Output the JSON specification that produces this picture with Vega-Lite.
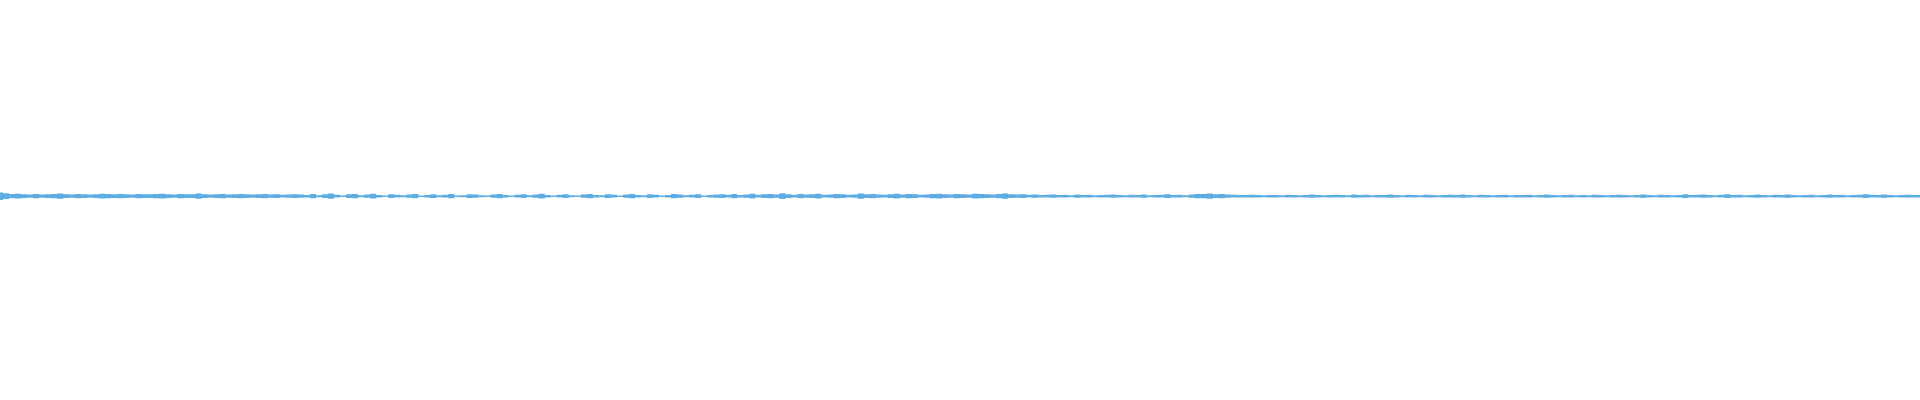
{
  "$schema": "https://vega.github.io/schema/vega-lite/v6.json",
  "width": 1920,
  "height": 400,
  "autosize": {"type": "fit", "contains": "padding"},
  "padding": 0,
  "background": "white",
  "config": {"view": {"stroke": null}},
  "data": {"values": [
    {"t":0,"a":1.6},{"t":1,"a":1.2},{"t":2,"a":0.9},{"t":3,"a":1.0},{"t":4,"a":0.8},{"t":5,"a":0.7},{"t":6,"a":0.9},{"t":7,"a":0.7},{"t":8,"a":0.8},{"t":9,"a":0.9},
    {"t":10,"a":1.1},{"t":11,"a":0.8},{"t":12,"a":0.7},{"t":13,"a":0.9},{"t":14,"a":0.8},{"t":15,"a":0.7},{"t":16,"a":0.8},{"t":17,"a":1.0},{"t":18,"a":0.9},{"t":19,"a":0.8},
    {"t":20,"a":0.9},{"t":21,"a":0.8},{"t":22,"a":0.7},{"t":23,"a":0.9},{"t":24,"a":0.8},{"t":25,"a":0.8},{"t":26,"a":0.9},{"t":27,"a":1.0},{"t":28,"a":0.8},{"t":29,"a":0.7},
    {"t":30,"a":0.9},{"t":31,"a":0.8},{"t":32,"a":0.8},{"t":33,"a":1.1},{"t":34,"a":0.8},{"t":35,"a":0.7},{"t":36,"a":0.8},{"t":37,"a":0.9},{"t":38,"a":0.7},{"t":39,"a":0.8},
    {"t":40,"a":0.9},{"t":41,"a":0.8},{"t":42,"a":0.7},{"t":43,"a":0.8},{"t":44,"a":0.9},{"t":45,"a":0.7},{"t":46,"a":0.8},{"t":47,"a":0.6},{"t":48,"a":0.7},{"t":49,"a":0.8},
    {"t":50,"a":0.7},{"t":51,"a":0.5},{"t":52,"a":0.9},{"t":53,"a":0.4},{"t":54,"a":0.8},{"t":55,"a":1.1},{"t":56,"a":0.6},{"t":57,"a":0.3},{"t":58,"a":0.8},{"t":59,"a":0.9},
    {"t":60,"a":0.4},{"t":61,"a":0.7},{"t":62,"a":1.0},{"t":63,"a":0.5},{"t":64,"a":0.3},{"t":65,"a":0.8},{"t":66,"a":0.6},{"t":67,"a":0.4},{"t":68,"a":0.7},{"t":69,"a":0.9},
    {"t":70,"a":0.3},{"t":71,"a":0.5},{"t":72,"a":0.8},{"t":73,"a":0.4},{"t":74,"a":0.6},{"t":75,"a":0.9},{"t":76,"a":0.3},{"t":77,"a":0.4},{"t":78,"a":0.8},{"t":79,"a":0.7},
    {"t":80,"a":0.4},{"t":81,"a":0.3},{"t":82,"a":0.7},{"t":83,"a":0.9},{"t":84,"a":0.5},{"t":85,"a":0.3},{"t":86,"a":0.6},{"t":87,"a":0.8},{"t":88,"a":0.4},{"t":89,"a":0.7},
    {"t":90,"a":1.0},{"t":91,"a":0.5},{"t":92,"a":0.3},{"t":93,"a":0.6},{"t":94,"a":0.8},{"t":95,"a":0.4},{"t":96,"a":0.3},{"t":97,"a":0.7},{"t":98,"a":0.9},{"t":99,"a":0.5},
    {"t":100,"a":0.4},{"t":101,"a":0.8},{"t":102,"a":0.6},{"t":103,"a":0.3},{"t":104,"a":0.7},{"t":105,"a":0.9},{"t":106,"a":0.5},{"t":107,"a":0.4},{"t":108,"a":0.8},{"t":109,"a":0.6},
    {"t":110,"a":0.3},{"t":111,"a":0.5},{"t":112,"a":0.9},{"t":113,"a":0.7},{"t":114,"a":0.4},{"t":115,"a":0.6},{"t":116,"a":0.8},{"t":117,"a":0.3},{"t":118,"a":0.5},{"t":119,"a":0.7},
    {"t":120,"a":0.8},{"t":121,"a":0.6},{"t":122,"a":0.9},{"t":123,"a":0.5},{"t":124,"a":0.7},{"t":125,"a":1.0},{"t":126,"a":0.6},{"t":127,"a":0.8},{"t":128,"a":0.9},{"t":129,"a":0.7},
    {"t":130,"a":1.2},{"t":131,"a":0.8},{"t":132,"a":0.6},{"t":133,"a":0.9},{"t":134,"a":0.7},{"t":135,"a":0.8},{"t":136,"a":1.0},{"t":137,"a":0.6},{"t":138,"a":0.7},{"t":139,"a":0.9},
    {"t":140,"a":0.8},{"t":141,"a":0.6},{"t":142,"a":0.7},{"t":143,"a":1.1},{"t":144,"a":0.8},{"t":145,"a":0.9},{"t":146,"a":0.7},{"t":147,"a":0.6},{"t":148,"a":0.8},{"t":149,"a":1.0},
    {"t":150,"a":0.7},{"t":151,"a":0.9},{"t":152,"a":0.8},{"t":153,"a":0.6},{"t":154,"a":0.7},{"t":155,"a":0.9},{"t":156,"a":1.0},{"t":157,"a":0.8},{"t":158,"a":0.7},{"t":159,"a":0.9},
    {"t":160,"a":0.8},{"t":161,"a":0.7},{"t":162,"a":1.0},{"t":163,"a":0.9},{"t":164,"a":0.8},{"t":165,"a":0.7},{"t":166,"a":0.9},{"t":167,"a":1.1},{"t":168,"a":0.8},{"t":169,"a":0.7},
    {"t":170,"a":0.8},{"t":171,"a":0.6},{"t":172,"a":0.7},{"t":173,"a":0.5},{"t":174,"a":0.6},{"t":175,"a":0.7},{"t":176,"a":0.5},{"t":177,"a":0.6},{"t":178,"a":0.4},{"t":179,"a":0.7},
    {"t":180,"a":0.5},{"t":181,"a":0.6},{"t":182,"a":0.4},{"t":183,"a":0.5},{"t":184,"a":0.6},{"t":185,"a":0.7},{"t":186,"a":0.5},{"t":187,"a":0.4},{"t":188,"a":0.6},{"t":189,"a":0.5},
    {"t":190,"a":0.7},{"t":191,"a":0.4},{"t":192,"a":0.5},{"t":193,"a":0.6},{"t":194,"a":0.8},{"t":195,"a":0.5},{"t":196,"a":0.6},{"t":197,"a":0.4},{"t":198,"a":0.7},{"t":199,"a":0.9},
    {"t":200,"a":0.9},{"t":201,"a":1.1},{"t":202,"a":0.8},{"t":203,"a":0.9},{"t":204,"a":0.7},{"t":205,"a":0.6},{"t":206,"a":0.5},{"t":207,"a":0.5},{"t":208,"a":0.6},{"t":209,"a":0.5},
    {"t":210,"a":0.4},{"t":211,"a":0.5},{"t":212,"a":0.5},{"t":213,"a":0.4},{"t":214,"a":0.6},{"t":215,"a":0.5},{"t":216,"a":0.4},{"t":217,"a":0.5},{"t":218,"a":0.7},{"t":219,"a":0.5},
    {"t":220,"a":0.4},{"t":221,"a":0.5},{"t":222,"a":0.6},{"t":223,"a":0.5},{"t":224,"a":0.4},{"t":225,"a":0.7},{"t":226,"a":0.5},{"t":227,"a":0.6},{"t":228,"a":0.4},{"t":229,"a":0.5},
    {"t":230,"a":0.5},{"t":231,"a":0.7},{"t":232,"a":0.5},{"t":233,"a":0.4},{"t":234,"a":0.6},{"t":235,"a":0.5},{"t":236,"a":0.4},{"t":237,"a":0.6},{"t":238,"a":0.5},{"t":239,"a":0.4},
    {"t":240,"a":0.5},{"t":241,"a":0.6},{"t":242,"a":0.5},{"t":243,"a":0.7},{"t":244,"a":0.5},{"t":245,"a":0.4},{"t":246,"a":0.6},{"t":247,"a":0.5},{"t":248,"a":0.4},{"t":249,"a":0.5},
    {"t":250,"a":0.6},{"t":251,"a":0.4},{"t":252,"a":0.5},{"t":253,"a":0.5},{"t":254,"a":0.6},{"t":255,"a":0.4},{"t":256,"a":0.5},{"t":257,"a":0.7},{"t":258,"a":0.5},{"t":259,"a":0.4},
    {"t":260,"a":0.5},{"t":261,"a":0.6},{"t":262,"a":0.4},{"t":263,"a":0.5},{"t":264,"a":0.4},{"t":265,"a":0.6},{"t":266,"a":0.5},{"t":267,"a":0.4},{"t":268,"a":0.5},{"t":269,"a":0.6},
    {"t":270,"a":0.5},{"t":271,"a":0.4},{"t":272,"a":0.5},{"t":273,"a":0.7},{"t":274,"a":0.5},{"t":275,"a":0.4},{"t":276,"a":0.6},{"t":277,"a":0.5},{"t":278,"a":0.4},{"t":279,"a":0.5},
    {"t":280,"a":0.8},{"t":281,"a":0.5},{"t":282,"a":0.6},{"t":283,"a":0.7},{"t":284,"a":0.5},{"t":285,"a":0.4},{"t":286,"a":0.6},{"t":287,"a":0.8},{"t":288,"a":0.5},{"t":289,"a":0.6},
    {"t":290,"a":0.4},{"t":291,"a":0.5},{"t":292,"a":0.7},{"t":293,"a":0.5},{"t":294,"a":0.4},{"t":295,"a":0.6},{"t":296,"a":0.5},{"t":297,"a":0.7},{"t":298,"a":0.5},{"t":299,"a":0.4},
    {"t":300,"a":0.5},{"t":301,"a":0.6},{"t":302,"a":0.4},{"t":303,"a":0.5},{"t":304,"a":0.7},{"t":305,"a":0.5},{"t":306,"a":0.6},{"t":307,"a":0.4},{"t":308,"a":0.5},{"t":309,"a":0.6},
    {"t":310,"a":0.8},{"t":311,"a":0.6},{"t":312,"a":0.5},{"t":313,"a":0.7},{"t":314,"a":0.5},{"t":315,"a":0.4},{"t":316,"a":0.5},{"t":317,"a":0.6},{"t":318,"a":0.5},{"t":319,"a":0.5}
  ]},
  "mark": {"type": "area", "color": "#5dade2", "interpolate": "step"},
  "encoding": {
    "x": {"field": "t", "type": "quantitative", "axis": null, "scale": {"domain": [0, 319], "nice": false, "zero": false}},
    "y": {"field": "a", "type": "quantitative", "stack": "center", "axis": null, "scale": {"domain": [-42, 42], "nice": false}}
  }
}
